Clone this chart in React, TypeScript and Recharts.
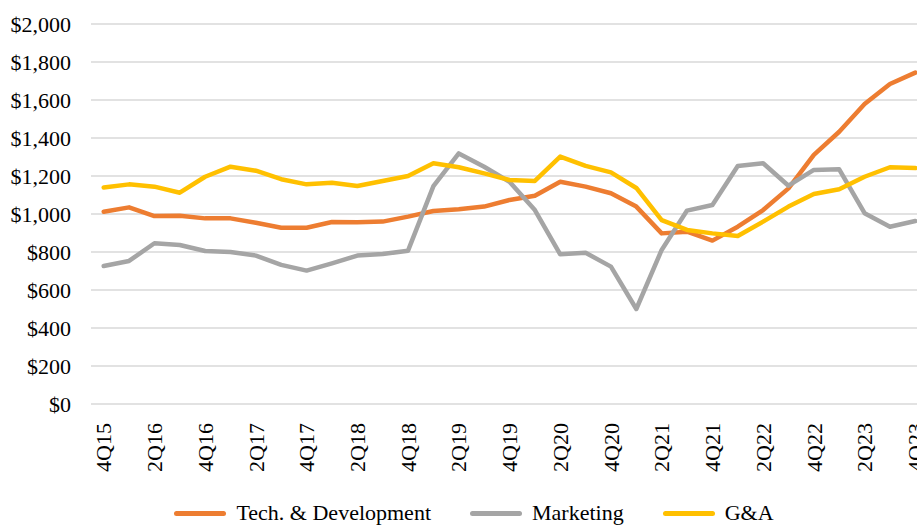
import React from "react";
import {
  LineChart,
  Line,
  XAxis,
  YAxis,
  CartesianGrid,
  Legend,
} from "recharts";

// quarters 4Q15 .. 4Q23
const QUARTERS = [
  "4Q15", "1Q16", "2Q16", "3Q16", "4Q16", "1Q17", "2Q17", "3Q17", "4Q17",
  "1Q18", "2Q18", "3Q18", "4Q18", "1Q19", "2Q19", "3Q19", "4Q19",
  "1Q20", "2Q20", "3Q20", "4Q20", "1Q21", "2Q21", "3Q21", "4Q21",
  "1Q22", "2Q22", "3Q22", "4Q22", "1Q23", "2Q23", "3Q23", "4Q23",
];

const TECH = [
  1012, 1035, 989, 991, 977, 977, 954, 928, 928, 958, 956, 960, 986, 1016,
  1025, 1039, 1074, 1096, 1170, 1144, 1109, 1039, 898, 907, 860, 933, 1021,
  1135, 1311, 1433, 1579, 1684, 1744,
];

const MARKETING = [
  726, 753, 846, 837, 805, 800, 781, 732, 702, 740, 781, 789, 807, 1147,
  1319, 1249, 1170, 1021, 788, 796, 723, 500, 811, 1018, 1047, 1253, 1267,
  1149, 1232, 1235, 1004, 933, 963,
];

const GA = [
  1140, 1156, 1144, 1112, 1196, 1249, 1228, 1183, 1156, 1165, 1147, 1174,
  1200, 1267, 1246, 1214, 1179, 1174, 1302, 1253, 1219, 1137, 968, 916, 898,
  884, 960, 1039, 1105, 1130, 1196, 1246, 1242,
];

const Y_TICKS = [0, 200, 400, 600, 800, 1000, 1200, 1400, 1600, 1800, 2000];

const SERIES = [
  { key: "tech", name: "Tech. & Development", color: "#ED7D31" },
  { key: "marketing", name: "Marketing", color: "#A5A5A5" },
  { key: "ga", name: "G&A", color: "#FFC000" },
];

const data = QUARTERS.map((q, i) => ({
  q,
  tech: TECH[i],
  marketing: MARKETING[i],
  ga: GA[i],
}));

const FONT = "'Liberation Serif', 'Times New Roman', serif";

const XTick = (props: any) => {
  const { x, y, payload } = props;
  return (
    <text
      x={x}
      y={y}
      transform={`rotate(-90, ${x}, ${y})`}
      textAnchor="end"
      dy="0.35em"
      fontSize={22}
      fontFamily={FONT}
      fill="#000"
    >
      {payload.value}
    </text>
  );
};

const LegendBox = () => (
  <div
    style={{
      height: 24,
      display: "flex",
      justifyContent: "center",
      alignItems: "center",
      paddingLeft: 20,
      fontFamily: FONT,
      fontSize: 22,
      color: "#000",
    }}
  >
    {SERIES.map((s, i) => (
      <div
        key={s.key}
        style={{
          display: "flex",
          alignItems: "center",
          marginLeft: i === 0 ? 0 : 39,
        }}
      >
        <div
          style={{
            width: 52,
            height: 5,
            borderRadius: 3,
            background: s.color,
            marginRight: 10,
          }}
        />
        <span style={{ whiteSpace: "nowrap" }}>{s.name}</span>
      </div>
    ))}
  </div>
);

export default function App() {
  return (
    <div
      style={{
        position: "absolute",
        left: 0,
        top: 0,
        width: 917,
        height: 525,
        overflow: "hidden",
        background: "#fff",
      }}
    >
      <LineChart
        width={940}
        height={525}
        data={data}
        margin={{ top: 24, right: 12, left: 0, bottom: 0 }}
      >
        <CartesianGrid
          vertical={false}
          stroke="#D9D9D9"
          strokeWidth={1.5}
        />
        <XAxis
          dataKey="q"
          interval={1}
          axisLine={false}
          tickLine={false}
          height={97}
          padding={{ left: 12.7, right: 12.7 }}
          tick={<XTick />}
          tickMargin={19}
          tickSize={0}
        />
        <YAxis
          domain={[0, 2000]}
          ticks={Y_TICKS}
          width={91}
          axisLine={false}
          tickLine={false}
          tickSize={0}
          tickMargin={20}
          tickFormatter={(v: number) => `$${v.toLocaleString("en-US")}`}
          tick={{ fontSize: 22, fontFamily: FONT, fill: "#000" }}
        />
        <Legend verticalAlign="bottom" content={<LegendBox />} />
        {SERIES.map((s) => (
          <Line
            key={s.key}
            dataKey={s.key}
            name={s.name}
            stroke={s.color}
            strokeWidth={4.5}
            strokeLinejoin="round"
            strokeLinecap="round"
            dot={false}
            isAnimationActive={false}
          />
        ))}
      </LineChart>
    </div>
  );
}
